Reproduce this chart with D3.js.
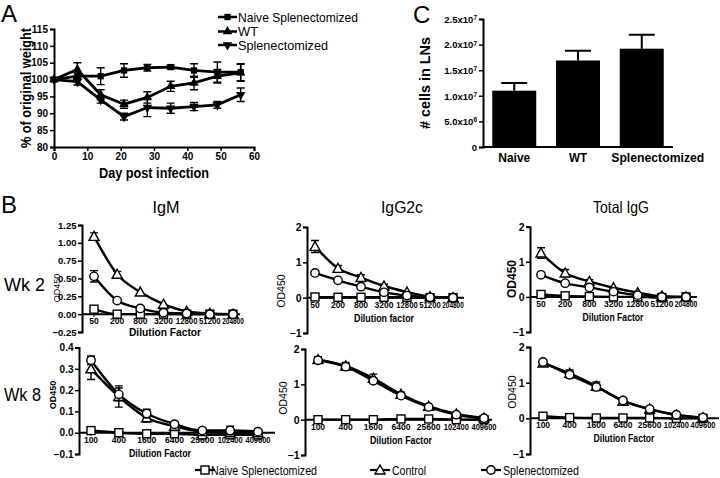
<!DOCTYPE html>
<html><head><meta charset="utf-8">
<script src="https://cdn.jsdelivr.net/npm/d3@7"></script>
<style>
body{margin:0;background:#fff;}
svg{font-family:"Liberation Sans",Arial,Helvetica,sans-serif;}
</style></head><body>
<svg id="c" width="720" height="478"></svg>
<script>
// ---------- Panel A data ----------
const daysA = [0,7,14,21,28,35,42,49,56];
const naiveSplenA = [100,101,101,102.7,103.5,103.7,102.7,102.2,102.2];
const naiveSplenAErr = [0,1,2.5,2,1,0.6,2,3,2.5];
const wtA = [100,103,95.5,92.7,94.7,98,99,101,102];
const wtAErr = [0,2,1.5,1.2,1.7,1.5,2,2,2.5];
const splenA = [100,99.4,94,89,91.7,91.5,92,92.5,95.5];
const splenAErr = [0,1,1,1,2.7,1.5,1.2,1,2];
const legendA = ["Naive Splenectomized","WT","Splenectomized"];
const yTicksA = [80,85,90,95,100,105,110,115];
const xTicksA = [0,10,20,30,40,50,60];

// ---------- Panel C data ----------
const cCategories = ["Naive","WT","Splenectomized"];
const cValues = [1.1e7,1.69e7,1.92e7];
const cErrors = [0.15e7,0.19e7,0.27e7];
const cTicks = [0,5e6,1e7,1.5e7,2e7,2.5e7];
const cTickMant = ["0","5.0","1.0","1.5","2.0","2.5"];
const cTickExp = ["","6","7","7","7","7"];

// ---------- Panel B data ----------
const dilWk2 = ["50","200","800","3200","12800","51200","204800"];
const dilWk8 = ["100","400","1600","6400","25600","102400","409600"];
const bSeriesNames = ["Naive Splenectomized","Control","Splenectomized"];

const igmWk2Naive = [0.07,0.0,0.0,0.0,0.0,0.0,0.0];
const igmWk2Control = [1.09,0.56,0.31,0.14,0.04,0.01,0.0];
const igmWk2ControlErr = [0.05,0.04,0.02,0.02,0.01,0.01,0.01];
const igmWk2Splen = [0.53,0.19,0.08,0.02,0.01,0.0,0.0];
const igmWk2SplenErr = [0.08,0.02,0.01,0.01,0.01,0.0,0.0];

const igg2cWk2Naive = [0.02,0.01,0.01,0.01,0.01,0.0,0.0];
const igg2cWk2Control = [1.45,0.83,0.57,0.33,0.16,0.03,0.0];
const igg2cWk2ControlErr = [0.17,0.08,0.08,0.05,0.03,0.02,0.02];
const igg2cWk2Splen = [0.70,0.49,0.31,0.15,0.06,0.01,0.0];
const igg2cWk2SplenErr = [0.04,0.03,0.03,0.03,0.02,0.01,0.01];

const totWk2Naive = [0.07,0.03,0.01,0.0,0.0,-0.02,0.0];
const totWk2Control = [1.25,0.68,0.44,0.26,0.12,0.02,0.0];
const totWk2ControlErr = [0.15,0.1,0.05,0.04,0.03,0.02,0.01];
const totWk2Splen = [0.63,0.39,0.27,0.15,0.05,0.0,0.0];
const totWk2SplenErr = [0.04,0.03,0.04,0.03,0.02,0.01,0.01];

const igmWk8Naive = [0.01,0.0,-0.005,-0.005,-0.01,-0.01,-0.01];
const igmWk8Control = [0.30,0.17,0.07,0.03,0.005,0.0,0.0];
const igmWk8ControlErr = [0.05,0.05,0.02,0.02,0.01,0.01,0.01];
const igmWk8Splen = [0.34,0.18,0.09,0.04,0.01,0.01,0.005];
const igmWk8SplenErr = [0.02,0.03,0.02,0.01,0.01,0.02,0.01];

const igg2cWk8Naive = [0.0,0.0,0.0,0.02,0.02,0.0,0.0];
const igg2cWk8Control = [1.70,1.52,1.17,0.72,0.38,0.16,0.05];
const igg2cWk8ControlErr = [0.08,0.1,0.12,0.06,0.04,0.03,0.02];
const igg2cWk8Splen = [1.68,1.50,1.10,0.68,0.36,0.14,0.04];
const igg2cWk8SplenErr = [0.08,0.06,0.06,0.05,0.03,0.02,0.01];

const totWk8Naive = [0.06,0.02,0.01,0.01,0.01,0.0,0.0];
const totWk8Control = [1.55,1.26,0.90,0.48,0.26,0.09,0.02];
const totWk8ControlErr = [0.05,0.1,0.12,0.06,0.04,0.03,0.02];
const totWk8Splen = [1.58,1.22,0.88,0.50,0.26,0.10,0.02];
const totWk8SplenErr = [0.03,0.1,0.08,0.05,0.03,0.02,0.01];

const svg = d3.select("#c");
// condense a text to a given width (reference uses a narrow face)
function squeeze(sel,w){ return sel.attr("textLength",w).attr("lengthAdjust","spacingAndGlyphs"); }

// ================= Panel A =================
(function(){
  const x = d3.scaleLinear().domain([0,60]).range([54,254]);
  const y = d3.scaleLinear().domain([80,115]).range([147,29]);
  const g = svg.append("g");
  g.append("text").attr("x",1).attr("y",22).attr("font-size",24).text("A");
  const ya = g.append("g").attr("transform","translate(54,0)")
    .call(d3.axisLeft(y).tickValues(yTicksA).tickSize(4).tickPadding(2));
  const xa = g.append("g").attr("transform","translate(0,147)")
    .call(d3.axisBottom(x).tickValues(xTicksA).tickSize(4).tickPadding(2));
  [ya,xa].forEach(a=>{
    a.select(".domain").attr("stroke-width",2);
    a.selectAll(".tick line").attr("stroke-width",1.5);
    a.selectAll("text").attr("font-size",10).attr("font-weight","bold").attr("font-family","Liberation Sans, Arial");
  });
  squeeze(g.append("text").attr("x",154).attr("y",178).attr("text-anchor","middle")
    .attr("font-size",15).attr("font-weight","bold").text("Day post infection"),110);
  squeeze(g.append("text").attr("transform","translate(31,88) rotate(-90)").attr("text-anchor","middle")
    .attr("font-size",15).attr("font-weight","bold").text("% of original weight"),120);
  const series = [
    {v:naiveSplenA,e:naiveSplenAErr,sym:d3.symbolSquare,rot:0,size:40},
    {v:wtA,e:wtAErr,sym:d3.symbolTriangle,rot:0,size:40},
    {v:splenA,e:splenAErr,sym:d3.symbolTriangle,rot:180,size:40}
  ];
  const line = d3.line().x((d,i)=>x(daysA[i])).y(d=>y(d));
  series.forEach(s=>{
    g.append("path").datum(s.v).attr("d",line).attr("fill","none").attr("stroke","#000").attr("stroke-width",2.8);
    s.v.forEach((v,i)=>{
      if(s.e[i]>0){
        const cx=x(daysA[i]);
        g.append("path").attr("d",`M${cx},${y(v-s.e[i])}V${y(v+s.e[i])}M${cx-4},${y(v-s.e[i])}H${cx+4}M${cx-4},${y(v+s.e[i])}H${cx+4}`)
          .attr("stroke","#000").attr("stroke-width",1.4).attr("fill","none");
      }
      g.append("path").attr("d",d3.symbol(s.sym,s.size)())
        .attr("transform",`translate(${x(daysA[i])},${y(v)}) rotate(${s.rot})`).attr("fill","#000");
    });
  });
  // legend
  const ly=[17,31.5,45], lw=[120,20,90];
  series.forEach((s,i)=>{
    g.append("line").attr("x1",218).attr("x2",237).attr("y1",ly[i]).attr("y2",ly[i]).attr("stroke","#000").attr("stroke-width",2.5);
    g.append("path").attr("d",d3.symbol(s.sym,s.size)()).attr("transform",`translate(227.5,${ly[i]}) rotate(${s.rot})`).attr("fill","#000");
    squeeze(g.append("text").attr("x",238).attr("y",ly[i]+4.5).attr("font-size",13.5).text(legendA[i]),lw[i]);
  });
})();

// ================= Panel C =================
(function(){
  const g = svg.append("g");
  g.append("text").attr("x",413).attr("y",23).attr("font-size",24).text("C");
  const x = d3.scaleBand().domain(cCategories).range([483,673]).paddingInner(0.31).paddingOuter(0.145);
  const y = d3.scaleLinear().domain([0,2.5e7]).range([147,19]);
  g.selectAll("rect.bar").data(cValues).enter().append("rect")
    .attr("x",(d,i)=>x(cCategories[i])).attr("width",x.bandwidth())
    .attr("y",d=>y(d)).attr("height",d=>147-y(d)).attr("fill","#000");
  cValues.forEach((v,i)=>{
    const cx=x(cCategories[i])+x.bandwidth()/2;
    g.append("path").attr("d",`M${cx},${y(v)}V${y(v+cErrors[i])}M${cx-13},${y(v+cErrors[i])}H${cx+13}`)
      .attr("stroke","#000").attr("stroke-width",2).attr("fill","none");
  });
  const ya = g.append("g").attr("transform","translate(483,0)")
    .call(d3.axisLeft(y).tickValues(cTicks).tickSize(4).tickFormat(()=>""));
  ya.select(".domain").attr("stroke-width",2);
  ya.selectAll(".tick line").attr("stroke-width",1.5);
  ya.selectAll(".tick").each(function(d,i){
    const t=d3.select(this).append("text").attr("x",-6).attr("dy","0.35em").attr("text-anchor","end")
      .attr("font-size",9.5).attr("font-weight","bold").attr("fill","#000");
    t.append("tspan").text(cTickMant[i] + (cTickExp[i]?"x10":""));
    if(cTickExp[i]) t.append("tspan").attr("dy","-0.45em").attr("font-size",6.5).text(cTickExp[i]);
  });
  g.append("line").attr("x1",482).attr("x2",673).attr("y1",147).attr("y2",147).attr("stroke","#000").attr("stroke-width",2);
  const labShift=[0,0,16], labW=[32,18,93];
  cCategories.forEach((c,i)=>{
    squeeze(g.append("text").attr("x",x(c)+x.bandwidth()/2+labShift[i]).attr("y",162).attr("text-anchor","middle")
      .attr("font-size",13).attr("font-weight","bold").text(c),labW[i]);
  });
  squeeze(g.append("text").attr("transform","translate(430,83) rotate(-90)").attr("text-anchor","middle")
    .attr("font-size",15).attr("font-weight","bold").text("# cells in LNs"),92);
})();

// ================= Panel B =================
svg.append("text").attr("x",1).attr("y",213).attr("font-size",24).text("B");
const titles = [{t:"IgM",x:166,w:27},{t:"IgG2c",x:402,w:42},{t:"Total IgG",x:621,w:56}];
titles.forEach(t=>squeeze(svg.append("text").attr("x",t.x).attr("y",213).attr("text-anchor","middle").attr("font-size",16.5).text(t.t),t.w));
squeeze(svg.append("text").attr("x",4).attr("y",291).attr("font-size",18).text("Wk 2"),41);
squeeze(svg.append("text").attr("x",4).attr("y",401).attr("font-size",18).text("Wk 8"),37);

function panel(cfg){
  const g = svg.append("g");
  const x = d3.scalePoint().domain(cfg.dil).range([cfg.x0,cfg.x1]);
  const y = d3.scaleLinear().domain(cfg.yd).range(cfg.yr);
  const ya = g.append("g").attr("transform",`translate(${cfg.ax},0)`)
    .call(d3.axisLeft(y).tickValues(cfg.yt).tickFormat(d3.format(cfg.fmt)).tickSize(4).tickPadding(1.5));
  ya.select(".domain").attr("stroke-width",2);
  ya.selectAll(".tick line").attr("stroke-width",1.5);
  ya.selectAll("text").attr("font-size",cfg.tfs).attr("font-weight","bold").attr("font-family","Liberation Sans, Arial");
  // zero line x axis
  g.append("line").attr("x1",cfg.ax).attr("x2",cfg.axEnd).attr("y1",y(0)).attr("y2",y(0)).attr("stroke","#000").attr("stroke-width",2);
  const maxW = Math.min(x.step()-1.5, 25);
  cfg.dil.forEach(d=>{
    g.append("line").attr("x1",x(d)).attr("x2",x(d)).attr("y1",y(0)).attr("y2",y(0)+3).attr("stroke","#000").attr("stroke-width",1);
    const t = g.append("text").attr("x",x(d)).attr("y",y(0)+10).attr("text-anchor","middle")
      .attr("font-size",cfg.xfs).attr("font-weight","bold").text(d);
    if(t.node().getComputedTextLength()>maxW) squeeze(t,maxW);
  });
  squeeze(g.append("text").attr("x",cfg.xlx).attr("y",cfg.xly).attr("text-anchor","middle")
    .attr("font-size",cfg.xtfs).attr("font-weight","bold").text(cfg.xtitle),cfg.xtw);
  g.append("text").attr("transform",`translate(${cfg.ylx},${cfg.yly}) rotate(-90)`).attr("text-anchor","middle")
    .attr("font-size",cfg.ytfs).attr("font-weight",cfg.ytw).text("OD450");
  const line = d3.line().x((d,i)=>x(cfg.dil[i])).y(d=>y(d)).curve(d3.curveMonotoneX);
  const ser = [
    {v:cfg.naive,e:null,shape:"square"},
    {v:cfg.control,e:cfg.controlErr,shape:"tri"},
    {v:cfg.splen,e:cfg.splenErr,shape:"circle"}
  ];
  ser.forEach(s=>{
    g.append("path").datum(s.v).attr("d",line).attr("fill","none").attr("stroke","#000").attr("stroke-width",2.4);
  });
  ser.forEach(s=>{
    s.v.forEach((v,i)=>{
      const cx=x(cfg.dil[i]), cy=y(v);
      if(s.e && s.e[i]>0.015*(cfg.yd[1]-cfg.yd[0])){
        const lo=y(v-s.e[i]), hi=y(v+s.e[i]);
        g.append("path").attr("d",`M${cx},${lo}V${hi}M${cx-4},${lo}H${cx+4}M${cx-4},${hi}H${cx+4}`)
          .attr("stroke","#000").attr("stroke-width",1.4).attr("fill","none");
      }
      drawMarker(g,s.shape,cx,cy);
    });
  });
}
function drawMarker(g,shape,cx,cy){
  if(shape==="square"){
    g.append("rect").attr("x",cx-4).attr("y",cy-4).attr("width",8).attr("height",8)
      .attr("fill","#fff").attr("stroke","#000").attr("stroke-width",1.4);
  } else if(shape==="tri"){
    g.append("path").attr("d",`M${cx},${cy-5}L${cx+5},${cy+4}L${cx-5},${cy+4}Z`)
      .attr("fill","#fff").attr("stroke","#000").attr("stroke-width",1.4);
  } else {
    g.append("circle").attr("cx",cx).attr("cy",cy).attr("r",4.2)
      .attr("fill","#fff").attr("stroke","#000").attr("stroke-width",1.4);
  }
}

panel({dil:dilWk2,x0:94,x1:233,ax:82,axEnd:240,yd:[-0.25,1.25],yr:[332,225],yt:[-0.25,0,0.25,0.5,0.75,1,1.25],fmt:".2f",tfs:9.5,xfs:8.5,
  xtitle:"Dilution Factor",xlx:165,xly:336,xtfs:11,xtw:72,ylx:60,yly:288,ytfs:9,ytw:"normal",
  naive:igmWk2Naive,control:igmWk2Control,controlErr:igmWk2ControlErr,splen:igmWk2Splen,splenErr:igmWk2SplenErr});
panel({dil:dilWk2,x0:315,x1:453,ax:307,axEnd:464,yd:[-1,2],yr:[333,227],yt:[-1,0,1,2],fmt:"d",tfs:10.5,xfs:8.5,
  xtitle:"Dilution factor",xlx:384,xly:322,xtfs:10.5,xtw:60,ylx:285,yly:291,ytfs:10.5,ytw:"normal",
  naive:igg2cWk2Naive,control:igg2cWk2Control,controlErr:igg2cWk2ControlErr,splen:igg2cWk2Splen,splenErr:igg2cWk2SplenErr});
panel({dil:dilWk2,x0:541,x1:686,ax:530,axEnd:697,yd:[-1,2],yr:[332,226.7],yt:[-1,0,1,2],fmt:"d",tfs:10.5,xfs:8.5,
  xtitle:"Dilution Factor",xlx:613,xly:321,xtfs:10.5,xtw:61,ylx:516,yly:279,ytfs:12,ytw:"bold",
  naive:totWk2Naive,control:totWk2Control,controlErr:totWk2ControlErr,splen:totWk2Splen,splenErr:totWk2SplenErr});
panel({dil:dilWk8,x0:91,x1:258,ax:79,axEnd:275,yd:[-0.1,0.4],yr:[454,347.5],yt:[-0.1,0,0.1,0.2,0.3,0.4],fmt:".1f",tfs:10,xfs:8.5,
  xtitle:"Dilution Factor",xlx:160,xly:457,xtfs:10.5,xtw:62,ylx:56,yly:395,ytfs:9,ytw:"bold",
  naive:igmWk8Naive,control:igmWk8Control,controlErr:igmWk8ControlErr,splen:igmWk8Splen,splenErr:igmWk8SplenErr});
panel({dil:dilWk8,x0:318,x1:484,ax:305,axEnd:492,yd:[-1,2],yr:[455,349],yt:[-1,0,1,2],fmt:"d",tfs:10.5,xfs:8.5,
  xtitle:"Dilution Factor",xlx:401,xly:444,xtfs:10.5,xtw:62,ylx:287,yly:398,ytfs:10.5,ytw:"normal",
  naive:igg2cWk8Naive,control:igg2cWk8Control,controlErr:igg2cWk8ControlErr,splen:igg2cWk8Splen,splenErr:igg2cWk8SplenErr});
panel({dil:dilWk8,x0:543,x1:703,ax:530,axEnd:719,yd:[-1,2],yr:[454,347],yt:[-1,0,1,2],fmt:"d",tfs:10.5,xfs:8.5,
  xtitle:"Dilution Factor",xlx:624,xly:442,xtfs:10.5,xtw:61,ylx:516,yly:392,ytfs:10.5,ytw:"normal",
  naive:totWk8Naive,control:totWk8Control,controlErr:totWk8ControlErr,splen:totWk8Splen,splenErr:totWk8SplenErr});

// bottom legend
const legB = [{shape:"square",x:205,tx:211,w:106},{shape:"tri",x:380,tx:392,w:34},{shape:"circle",x:491,tx:503,w:76}];
legB.forEach((l,i)=>{
  svg.append("line").attr("x1",l.x-10).attr("x2",l.x+10).attr("y1",470).attr("y2",470).attr("stroke","#000").attr("stroke-width",2.2);
  drawMarker(svg,l.shape,l.x,470);
  squeeze(svg.append("text").attr("x",l.tx).attr("y",474.5).attr("font-size",13).text(bSeriesNames[i]),l.w);
});
</script>
</body></html>
